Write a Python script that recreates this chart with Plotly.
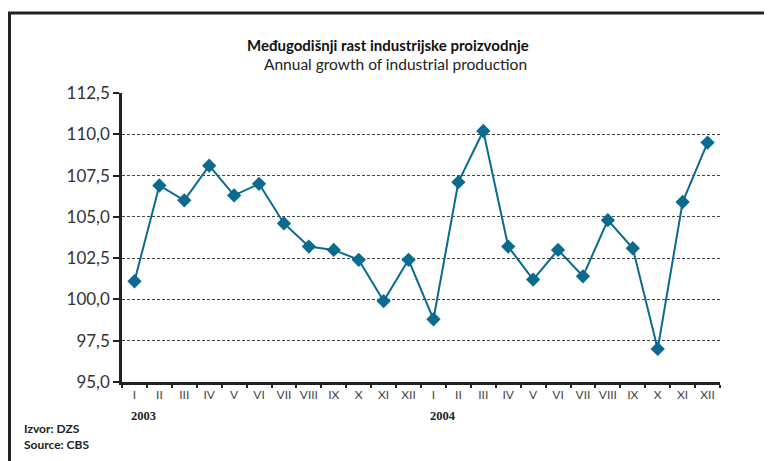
import plotly.graph_objects as go

months = ["I", "II", "III", "IV", "V", "VI", "VII", "VIII", "IX", "X", "XI", "XII"]
years = ["2003", "2004"]
categories = [f"{y}-{m}" for y in years for m in months]
tick_labels = months + months
values = [101.1, 106.9, 106.0, 108.1, 106.3, 107.0, 104.6, 103.2, 103.0, 102.4, 99.9, 102.4,
          98.8, 107.1, 110.2, 103.2, 101.2, 103.0, 101.4, 104.8, 103.1, 97.0, 105.9, 109.5]
y_ticks = [95.0, 97.5, 100.0, 102.5, 105.0, 107.5, 110.0, 112.5]

title_main = "Međugodišnji rast industrijske proizvodnje"
title_sub = "Annual growth of industrial production"

line_color = "#0b6a8f"

# page offset: the page body adds 8px margin
OFF = 8
L, T, W, H = 122 - OFF, 93 - OFF, 598, 289


def px(xp):
    return (xp - OFF - L) / W


def py(yp):
    return 1 - (yp - OFF - T) / H


fig = go.Figure()
fig.add_trace(go.Scatter(
    x=categories, y=values, mode="lines+markers",
    line=dict(color=line_color, width=2),
    marker=dict(symbol="diamond", size=11, color=line_color),
    showlegend=False, cliponaxis=False,
))

fig.update_layout(
    width=772, height=461,
    margin=dict(l=L, r=772 - L - W, t=T, b=461 - T - H, autoexpand=False),
    paper_bgcolor="white", plot_bgcolor="white",
    separators=",.",
    font=dict(family="Lato, sans-serif", color="#333333"),
    xaxis=dict(
        type="category", tickvals=categories, ticktext=tick_labels,
        tickson="boundaries", ticks="outside", ticklen=3, tickwidth=1.5, tickcolor="#222",
        showline=True, linecolor="#222", linewidth=2.5, tickangle=0,
        showgrid=False, tickfont=dict(size=12, color="#444", family="Lato"),
        range=[-0.5, 23.5], automargin=False,
    ),
    yaxis=dict(
        range=[95, 112.5], tickvals=y_ticks, tickformat=".1f",
        ticks="outside", ticklen=6, tickwidth=1.5, tickcolor="#222",
        showline=True, linecolor="#222", linewidth=2.5,
        showgrid=True, gridcolor="#444", griddash="3px,2px", gridwidth=1,
        tickfont=dict(size=17, color="#333", family="Lato"), zeroline=False, automargin=False,
    ),
    annotations=[
        dict(text=f"<b>{title_main}</b>", xref="paper", yref="paper", x=px(388), y=py(45),
             showarrow=False, xanchor="center", yanchor="middle",
             font=dict(size=15, color="#111", family="Lato")),
        dict(text=title_sub, xref="paper", yref="paper", x=px(395), y=py(64),
             showarrow=False, xanchor="center", yanchor="middle",
             font=dict(size=15.5, color="#222", family="Lato")),
        dict(text=f"<b>{years[0]}</b>", xref="x", yref="paper", x=categories[0], y=py(416),
             xshift=-5, showarrow=False, xanchor="left", yanchor="middle",
             font=dict(size=12.5, color="#222", family="Liberation Serif")),
        dict(text=f"<b>{years[1]}</b>", xref="x", yref="paper", x=categories[12], y=py(416),
             xshift=-5, showarrow=False, xanchor="left", yanchor="middle",
             font=dict(size=12.5, color="#222", family="Liberation Serif")),
        dict(text="<b>Izvor: DZS</b><br><b>Source: CBS</b>", xref="paper", yref="paper",
             x=px(22), y=py(436), showarrow=False, xanchor="left", yanchor="middle",
             align="left", font=dict(size=12, color="#222", family="Lato")),
    ],
    shapes=[
        dict(type="line", xref="paper", yref="paper",
             x0=px(7), x1=px(780), y0=py(13), y1=py(13),
             line=dict(color="#222", width=3)),
        dict(type="line", xref="paper", yref="paper",
             x0=px(9.5), x1=px(9.5), y0=py(13), y1=py(470),
             line=dict(color="#222", width=3)),
    ],
)

fig.write_html("out.html")
